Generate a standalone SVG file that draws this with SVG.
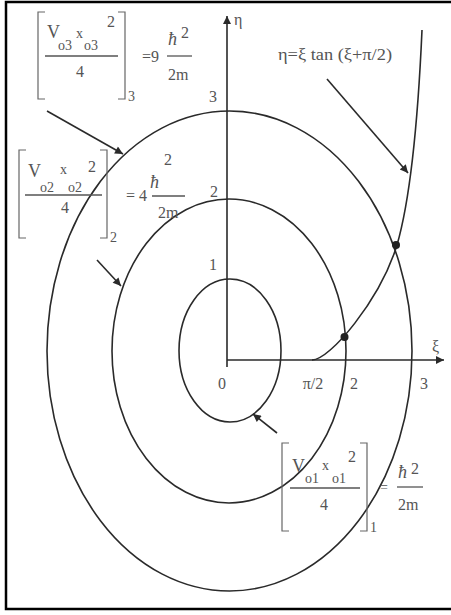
<svg xmlns="http://www.w3.org/2000/svg" width="451" height="615" viewBox="0 0 451 615">
<defs>
<style>
.ln{fill:none;stroke:#2a2a2a;stroke-width:1.6}
.br{fill:none;stroke:#666;stroke-width:1.2}
.fr{stroke:#555;stroke-width:1.3}
.t{font-family:"Liberation Serif","Times New Roman",serif;fill:#555}
.m{font-size:18px}
.s{font-size:14px}
.n{font-size:16px}
.h{font-size:18px;font-style:italic}
</style>
<marker id="ah" viewBox="0 0 10 10" refX="10" refY="5" markerWidth="10" markerHeight="8" markerUnits="userSpaceOnUse" orient="auto">
<path d="M0,0 L10,5 L0,10 z" fill="#2a2a2a"/>
</marker>
</defs>
<rect width="451" height="615" fill="#fff"/>
<path d="M451 2 H6 V609 H451" fill="none" stroke="#000" stroke-width="2.5"/>

<g id="axes">
<line class="ln" x1="227" y1="367" x2="227" y2="16" marker-end="url(#ah)"/>
<line class="ln" x1="227" y1="360" x2="444" y2="360" marker-end="url(#ah)"/>
<text class="t n" x="234" y="25">η</text>
<text class="t n" x="432" y="352">ξ</text>
<text class="t n" x="222" y="389" text-anchor="middle">0</text>
<text class="t n" x="313" y="389" text-anchor="middle">π/2</text>
<text class="t n" x="354" y="389" text-anchor="middle">2</text>
<text class="t n" x="424" y="389" text-anchor="middle">3</text>
</g>

<g id="circle1">
<ellipse class="ln" cx="230" cy="350.5" rx="51" ry="71.5"/>
<text class="t n" x="213" y="270" text-anchor="middle">1</text>
</g>
<g id="circle2">
<ellipse class="ln" cx="229" cy="351" rx="117" ry="152"/>
<text class="t n" x="214" y="197" text-anchor="middle">2</text>
</g>
<g id="circle3">
<ellipse class="ln" cx="229.5" cy="351" rx="182.5" ry="240"/>
<text class="t n" x="213" y="102" text-anchor="middle">3</text>
</g>

<g id="tan-curve">
<path class="ln" d="M312 360 C330 360 380 300 397 245 C410 200 418 120 422 30"/>
<circle cx="344.5" cy="337" r="4" fill="#222"/>
<circle cx="396" cy="245" r="4" fill="#222"/>
<text class="t" x="278" y="60" font-size="16" textLength="114" lengthAdjust="spacingAndGlyphs">η=ξ tan (ξ+π/2)</text>
</g>

<g id="formula3">
<path class="br" d="M45 12 H38 V99 H45 M118 12 H125 V99 H118"/>
<text class="t m" x="47" y="38">V</text>
<text class="t s" x="58" y="50">o3</text>
<text class="t s" x="76" y="38">x</text>
<text class="t s" x="84" y="50">o3</text>
<text class="t n" x="107" y="27">2</text>
<line class="fr" x1="45" y1="56" x2="118" y2="56"/>
<text class="t n" x="80" y="77" text-anchor="middle">4</text>
<text class="t s" x="128" y="101">3</text>
<text class="t n" x="142" y="62">=9</text>
<text class="t h" x="168" y="45">ħ</text>
<text class="t n" x="181" y="38">2</text>
<line class="fr" x1="167" y1="56" x2="192" y2="56"/>
<text class="t n" x="168" y="80">2m</text>
</g>

<g id="formula2">
<path class="br" d="M26 150 H19 V238 H26 M100 150 H107 V238 H100"/>
<text class="t m" x="28" y="177">V</text>
<text class="t s" x="40" y="192">o2</text>
<text class="t s" x="60" y="174">x</text>
<text class="t s" x="68" y="192">o2</text>
<text class="t n" x="88" y="172">2</text>
<line class="fr" x1="25" y1="195" x2="102" y2="195"/>
<text class="t n" x="65" y="213" text-anchor="middle">4</text>
<text class="t s" x="110" y="242">2</text>
<text class="t n" x="126" y="201">= 4</text>
<text class="t h" x="150" y="188">ħ</text>
<text class="t n" x="164" y="165">2</text>
<line class="fr" x1="152" y1="196" x2="185" y2="196"/>
<text class="t n" x="158" y="218">2m</text>
</g>

<g id="formula1">
<path class="br" d="M289 443 H282 V531 H289 M360 443 H367 V531 H360"/>
<text class="t m" x="292" y="472">V</text>
<text class="t s" x="305" y="483">o1</text>
<text class="t s" x="322" y="470">x</text>
<text class="t s" x="332" y="483">o1</text>
<text class="t n" x="348" y="462">2</text>
<line class="fr" x1="290" y1="488" x2="360" y2="488"/>
<text class="t n" x="324" y="510" text-anchor="middle">4</text>
<text class="t s" x="370" y="532">1</text>
<text class="t s" x="380" y="492">=</text>
<text class="t h" x="398" y="478">ħ</text>
<text class="t n" x="411" y="474">2</text>
<line class="fr" x1="397" y1="487" x2="423" y2="487"/>
<text class="t n" x="398" y="510">2m</text>
</g>

<g id="connectors">
<line class="ln" x1="47" y1="111" x2="123" y2="154" marker-end="url(#ah)"/>
<line class="ln" x1="97" y1="260" x2="121" y2="286" marker-end="url(#ah)"/>
<line class="ln" x1="277" y1="433" x2="253" y2="414" marker-end="url(#ah)"/>
<line class="ln" x1="327" y1="79" x2="408" y2="173" marker-end="url(#ah)"/>
</g>
</svg>
